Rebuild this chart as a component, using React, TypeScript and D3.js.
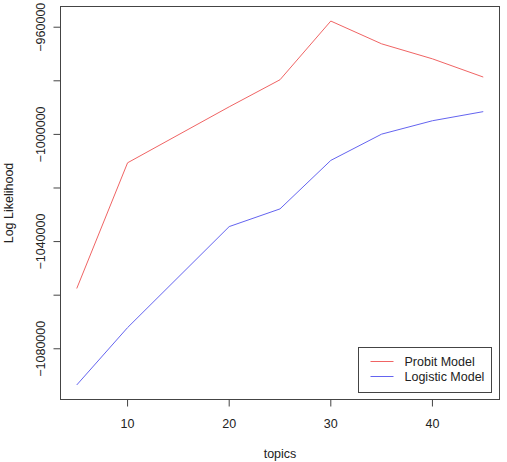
import * as d3 from "d3";

const WIDTH = 507;
const HEIGHT = 462;
const PLOT = { left: 60.5, right: 499.5, top: 6.5, bottom: 399.5 };

const topics = [5, 10, 20, 25, 30, 35, 40, 45];
const probit = [-1057500, -1010600, -989700, -979600, -957700, -966200, -971800, -978600];
const logistic = [-1093500, -1072100, -1034400, -1027800, -1009700, -999900, -994900, -991500];
const xTicks = [10, 20, 30, 40];
const yTicks = [-1080000, -1040000, -1000000, -960000];
const yMinorTicks = [-1060000, -1020000, -980000];

const series = [
  { name: "Probit Model", values: probit, color: "#f06464" },
  { name: "Logistic Model", values: logistic, color: "#6464f0" },
];

// R style axis padding (4% each side)
const pad = (lo: number, hi: number) => {
  const d = (hi - lo) * 0.04;
  return [lo - d, hi + d];
};

export default function App() {
  const xExt = d3.extent(topics) as [number, number];
  const allY = [...probit, ...logistic];
  const yExt = d3.extent(allY) as [number, number];

  const x = d3.scaleLinear().domain(pad(xExt[0], xExt[1])).range([PLOT.left, PLOT.right]);
  const y = d3.scaleLinear().domain(pad(yExt[0], yExt[1])).range([PLOT.bottom, PLOT.top]);

  const line = d3
    .line<number>()
    .x((_, i) => x(topics[i]))
    .y((d) => y(d));

  const font = "'Liberation Sans', Arial, sans-serif";
  const allYTicks = [...yTicks, ...yMinorTicks];

  const legend = { x: 358.5, y: 347.5, w: 133, h: 45 };

  return (
    <svg
      width={WIDTH}
      height={HEIGHT}
      style={{ position: "absolute", left: 0, top: 0 }}
      fontFamily={font}
      fontSize={12.5}
    >
      <rect width={WIDTH} height={HEIGHT} fill="white" />

      {/* Plot frame */}
      <rect
        x={PLOT.left}
        y={PLOT.top}
        width={PLOT.right - PLOT.left}
        height={PLOT.bottom - PLOT.top}
        fill="none"
        stroke="#444"
      />

      {/* X axis */}
      {xTicks.map((t) => (
        <g key={t}>
          <line x1={x(t)} x2={x(t)} y1={PLOT.bottom} y2={PLOT.bottom + 7} stroke="#444" />
          <text x={x(t)} y={427.5} textAnchor="middle" fill="#222">
            {t}
          </text>
        </g>
      ))}
      <text x={(PLOT.left + PLOT.right) / 2} y={458} textAnchor="middle" fill="#222">
        topics
      </text>

      {/* Y axis */}
      {allYTicks.map((t) => (
        <line key={t} x1={PLOT.left - 7} x2={PLOT.left} y1={y(t)} y2={y(t)} stroke="#444" />
      ))}
      {yTicks.map((t) => (
        <text
          key={t}
          transform={`translate(44.5,${y(t)}) rotate(-90)`}
          textAnchor="middle"
          fill="#222"
        >
          {"\u2212" + Math.abs(t)}
        </text>
      ))}
      <text
        transform={`translate(13,${(PLOT.top + PLOT.bottom) / 2}) rotate(-90)`}
        textAnchor="middle"
        fill="#222"
      >
        Log Likelihood
      </text>

      {/* Lines */}
      {series.map((s) => (
        <path key={s.name} d={line(s.values) ?? ""} fill="none" stroke={s.color} strokeWidth={1} />
      ))}

      {/* Legend */}
      <rect x={legend.x} y={legend.y} width={legend.w} height={legend.h} fill="white" stroke="#444" />
      {series.map((s, i) => {
        const cy = legend.y + 14 + i * 15;
        return (
          <g key={s.name}>
            <line x1={legend.x + 12} x2={legend.x + 35} y1={cy} y2={cy} stroke={s.color} />
            <text x={legend.x + 46} y={cy + 4.5} fill="#222">
              {s.name}
            </text>
          </g>
        );
      })}
    </svg>
  );
}
